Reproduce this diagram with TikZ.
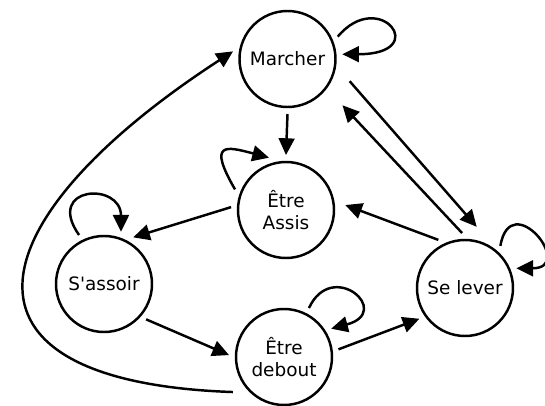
\documentclass[tikz,border=0pt]{standalone}
\usepackage{fontspec}
\setmainfont{DejaVu Sans}
\usetikzlibrary{arrows.meta}

\begin{document}
\begin{tikzpicture}[
    state/.style={draw, circle, line width=1.4pt, minimum size=1.92cm, inner sep=0pt, outer sep=0.14cm, align=center, font=\fontsize{10.5}{12.5}\selectfont},
    trans/.style={line width=1.4pt, -{Triangle[length=9.5pt,width=9pt]}}
]
    \useasboundingbox (0,0) rectangle (10.9,8.1);

    % States
    \node[state] (marcher) at (5.75,6.92) {Marcher};
    \node[state] (assis) at (5.72,3.90) {Être\\Assis};
    \node[state] (sassoir) at (2.08,2.42) {S\textquotesingle assoir};
    \node[state] (debout) at (5.68,0.96) {Être\\debout};
    \node[state] (lever) at (9.30,2.34) {Se lever};

    % Transitions
    \draw[trans] (marcher.south) -- (assis.north);
    \draw[trans] (assis.177) -- (sassoir.58);
    \draw[trans, shorten >=0.1cm] (lever.119) -- (assis.7);
    \draw[trans, shorten <=0.26cm, shorten >=0.27cm] (marcher.-13) -- (lever.68);
    \draw[trans, shorten >=0.34cm] (lever.93) -- (marcher.-38);
    \draw[trans] (sassoir.-40) -- (debout.178);
    \draw[trans] (debout.8) -- (lever.214);
    \draw[trans, shorten <=0.18cm] (debout.220) .. controls +(178:6.2) and +(213:6.1) .. (marcher.172);

    % Self loops
    \draw[trans] (marcher.24) .. controls +(50:1.3) and +(0:1.8) .. (marcher.5);
    \draw[trans] (assis.158) .. controls +(120:1.1) and +(165:0.9) .. (assis.108);
    \draw[trans] (sassoir.117) .. controls +(125:1.2) and +(90:1.0) .. (sassoir.72);
    \draw[trans] (debout.63) .. controls +(65:1.1) and +(15:1.3) .. (debout.31);
    \draw[trans] (lever.50) .. controls +(80:1.2) and +(0:1.2) .. (lever.21);
\end{tikzpicture}
\end{document}
